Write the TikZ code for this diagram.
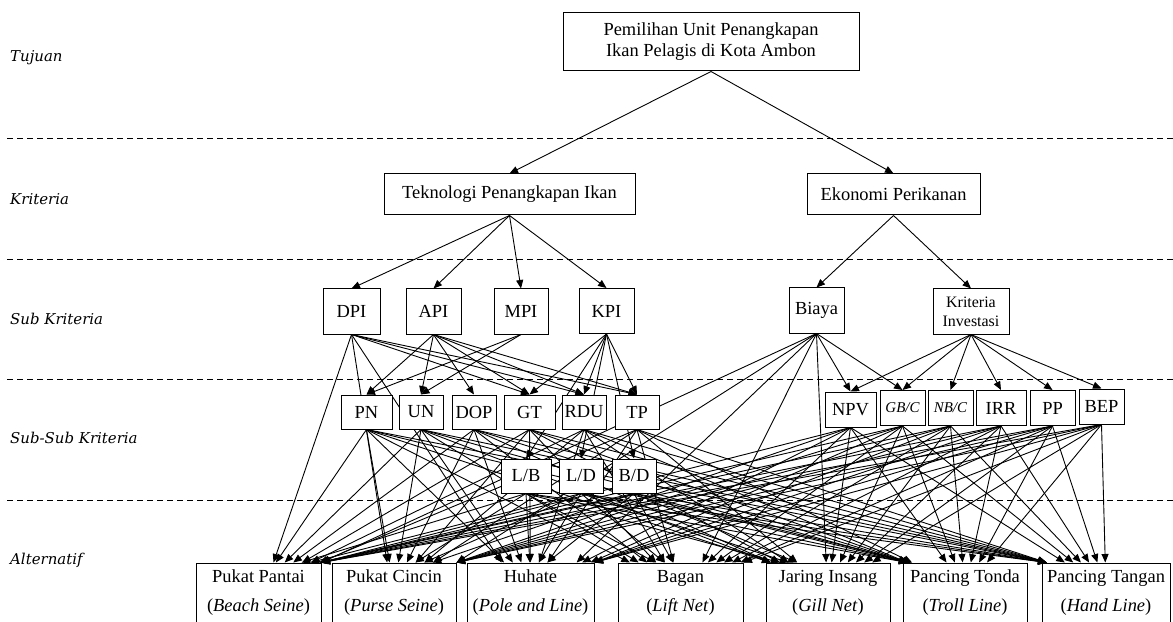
\documentclass[tikz,border=0pt]{standalone}
\usepackage{fontspec}
\setmainfont{Liberation Serif}
\newfontfamily\labfont{DejaVu Serif}
\usetikzlibrary{arrows.meta,calc}
\pgfdeclarelayer{bg}
\pgfsetlayers{bg,main}
\tikzset{
 box/.style={draw, fill=white, line width=1bp, inner sep=0pt, align=center, font=\fontsize{18.5}{21}\selectfont},
 altbox/.style={box, minimum height=60bp, font=\fontsize{18.5}{29}\selectfont},
 ssbox/.style={box, minimum height=34bp},
 subbox/.style={box, minimum height=45bp},
 arr/.style={-{Triangle[length=8.5bp,width=7bp]}, line width=0.9bp},
 lvl/.style={anchor=west, inner sep=0pt, font=\labfont\itshape\fontsize{15}{17}\selectfont},
 sep/.style={dash pattern=on 6bp off 4bp, line width=0.9bp},
}
\newcommand\linkalts[3]{%
 \foreach \a/\ax/\aw in #3{%
   \pgfmathsetmacro\ff{max(0.04,min(1.0,0.5+0.16*(#2-\ax)/\aw))}%
   \draw[arr] (#1.south) -- ($(\a.north west)!\ff!(\a.north east)$);
 }}
\def\allalts{a1/258.5/125,a2/394/124,a3/530.5/127,a4/680.5/125,a5/828/124,a6/965/124,a7/1106/128}
\begin{document}
\begin{tikzpicture}[x=1bp,y=-1bp]
\useasboundingbox (0,0) rectangle (1173,622);
% level labels
\node[lvl] (l1) at (10,58) {Tujuan};
\node[lvl] (l2) at (10,199) {Kriteria};
\node[lvl] (l3) at (10,319) {Sub Kriteria};
\node[lvl] (l4) at (10,438) {Sub-Sub Kriteria};
\node[lvl] (l5) at (10,560) {Alternatif};
% goal and criteria
\node[box, minimum width=296bp, minimum height=58bp] (goal) at (711,42) {Pemilihan Unit Penangkapan\\Ikan Pelagis di Kota Ambon};
\node[box, minimum width=251bp, minimum height=41bp] (tek) at (509.5,194.5) {Teknologi Penangkapan Ikan};
\node[box, minimum width=173bp, minimum height=41bp] (eko) at (893.5,194.5) {Ekonomi Perikanan};
% sub criteria
\node[subbox, minimum width=57bp] (dpi) at (351.5,311.5) {DPI};
\node[subbox, minimum width=55bp] (api) at (433.5,311.5) {API};
\node[subbox, minimum width=54bp] (mpi) at (521,311.5) {MPI};
\node[subbox, minimum width=55bp] (kpi) at (606.5,311) {KPI};
\node[subbox, minimum width=55bp] (biaya) at (816.5,310.5) {Biaya};
\node[subbox, minimum width=76bp, font=\fontsize{16}{19}\selectfont] (ki) at (971,311.5) {Kriteria\\Investasi};
% sub-sub criteria
\node[ssbox, minimum width=51bp] (pn) at (366.5,412) {PN};
\node[ssbox, minimum width=44bp] (un) at (421,412) {UN};
\node[ssbox, minimum width=44bp] (dop) at (474,412) {DOP};
\node[ssbox, minimum width=51bp] (gt) at (529.5,412) {GT};
\node[ssbox, minimum width=44bp] (rdu) at (584,412) {RDU};
\node[ssbox, minimum width=44bp] (tp) at (637,412) {TP};
\node[ssbox, minimum width=50bp] (lb) at (526,476) {L/B};
\node[ssbox, minimum width=44bp] (ld) at (581,476) {L/D};
\node[ssbox, minimum width=44bp] (bd) at (634,476) {B/D};
\node[ssbox, minimum width=51bp, minimum height=35bp] (npv) at (850.5,409.5) {NPV};
\node[ssbox, minimum width=45bp, minimum height=35bp, font=\itshape\fontsize{15}{17}\selectfont] (gbc) at (902.5,408) {GB/C};
\node[ssbox, minimum width=45bp, minimum height=35bp, font=\itshape\fontsize{15}{17}\selectfont] (nbc) at (950.5,408) {NB/C};
\node[ssbox, minimum width=50bp, minimum height=35bp] (irr) at (1001,408) {IRR};
\node[ssbox, minimum width=45bp, minimum height=35bp] (ppb) at (1052.5,408) {PP};
\node[ssbox, minimum width=45bp, minimum height=35bp] (bep) at (1101.5,406.5) {BEP};
% alternatives
\node[altbox, minimum width=125bp] (a1) at (258.5,593) {Pukat Pantai\\(\textit{Beach Seine})};
\node[altbox, minimum width=124bp] (a2) at (394,593) {Pukat Cincin\\(\textit{Purse Seine})};
\node[altbox, minimum width=127bp] (a3) at (530.5,593) {Huhate\\(\textit{Pole and Line})};
\node[altbox, minimum width=125bp] (a4) at (680.5,593) {Bagan\\(\textit{Lift Net})};
\node[altbox, minimum width=124bp] (a5) at (828,593) {Jaring Insang\\(\textit{Gill Net})};
\node[altbox, minimum width=124bp] (a6) at (965,593) {Pancing Tonda\\(\textit{Troll Line})};
\node[altbox, minimum width=128bp] (a7) at (1106,593) {Pancing Tangan\\(\textit{Hand Line})};
\begin{pgfonlayer}{bg}
\foreach \yy in {138,259,379,500} \draw[sep] (7,\yy) -- (1173,\yy);
\draw[arr] (goal.south) -- (tek.north);
\draw[arr] (goal.south) -- (eko.north);
\foreach \t in {dpi,api,mpi,kpi} \draw[arr] (tek.south) -- (\t.north);
\foreach \t in {biaya,ki} \draw[arr] (eko.south) -- (\t.north);
\foreach \t in {gt,rdu,tp} \draw[arr] (dpi.south) -- (\t.north);
\foreach \t in {pn,un,dop,gt,rdu,tp} \draw[arr] (api.south) -- (\t.north);
\foreach \t in {pn,un} \draw[arr] (mpi.south) -- (\t.north);
\foreach \t in {gt,rdu,tp,lb,ld,bd} \draw[arr] (kpi.south) -- (\t.north);
\foreach \t in {npv,gbc} \draw[arr] (biaya.south) -- (\t.north);
\foreach \t in {npv,gbc,nbc,irr,ppb,bep} \draw[arr] (ki.south) -- (\t.north);
\linkalts{dpi}{351.5}{{a1/258.5/125,a2/394/124,a3/530.5/127}}
\linkalts{biaya}{816.5}{{a1/258.5/125,a2/394/124,a3/530.5/127,a4/680.5/125,a5/828/124}}
\foreach \s/\sx in {pn/366.5,un/421,dop/474,gt/529.5,rdu/584,tp/637,lb/526,ld/581,bd/634,npv/850.5,gbc/902.5,nbc/950.5,irr/1001,ppb/1052.5,bep/1101.5}
  {\linkalts{\s}{\sx}{\allalts}}
\end{pgfonlayer}
\end{tikzpicture}
\end{document}
